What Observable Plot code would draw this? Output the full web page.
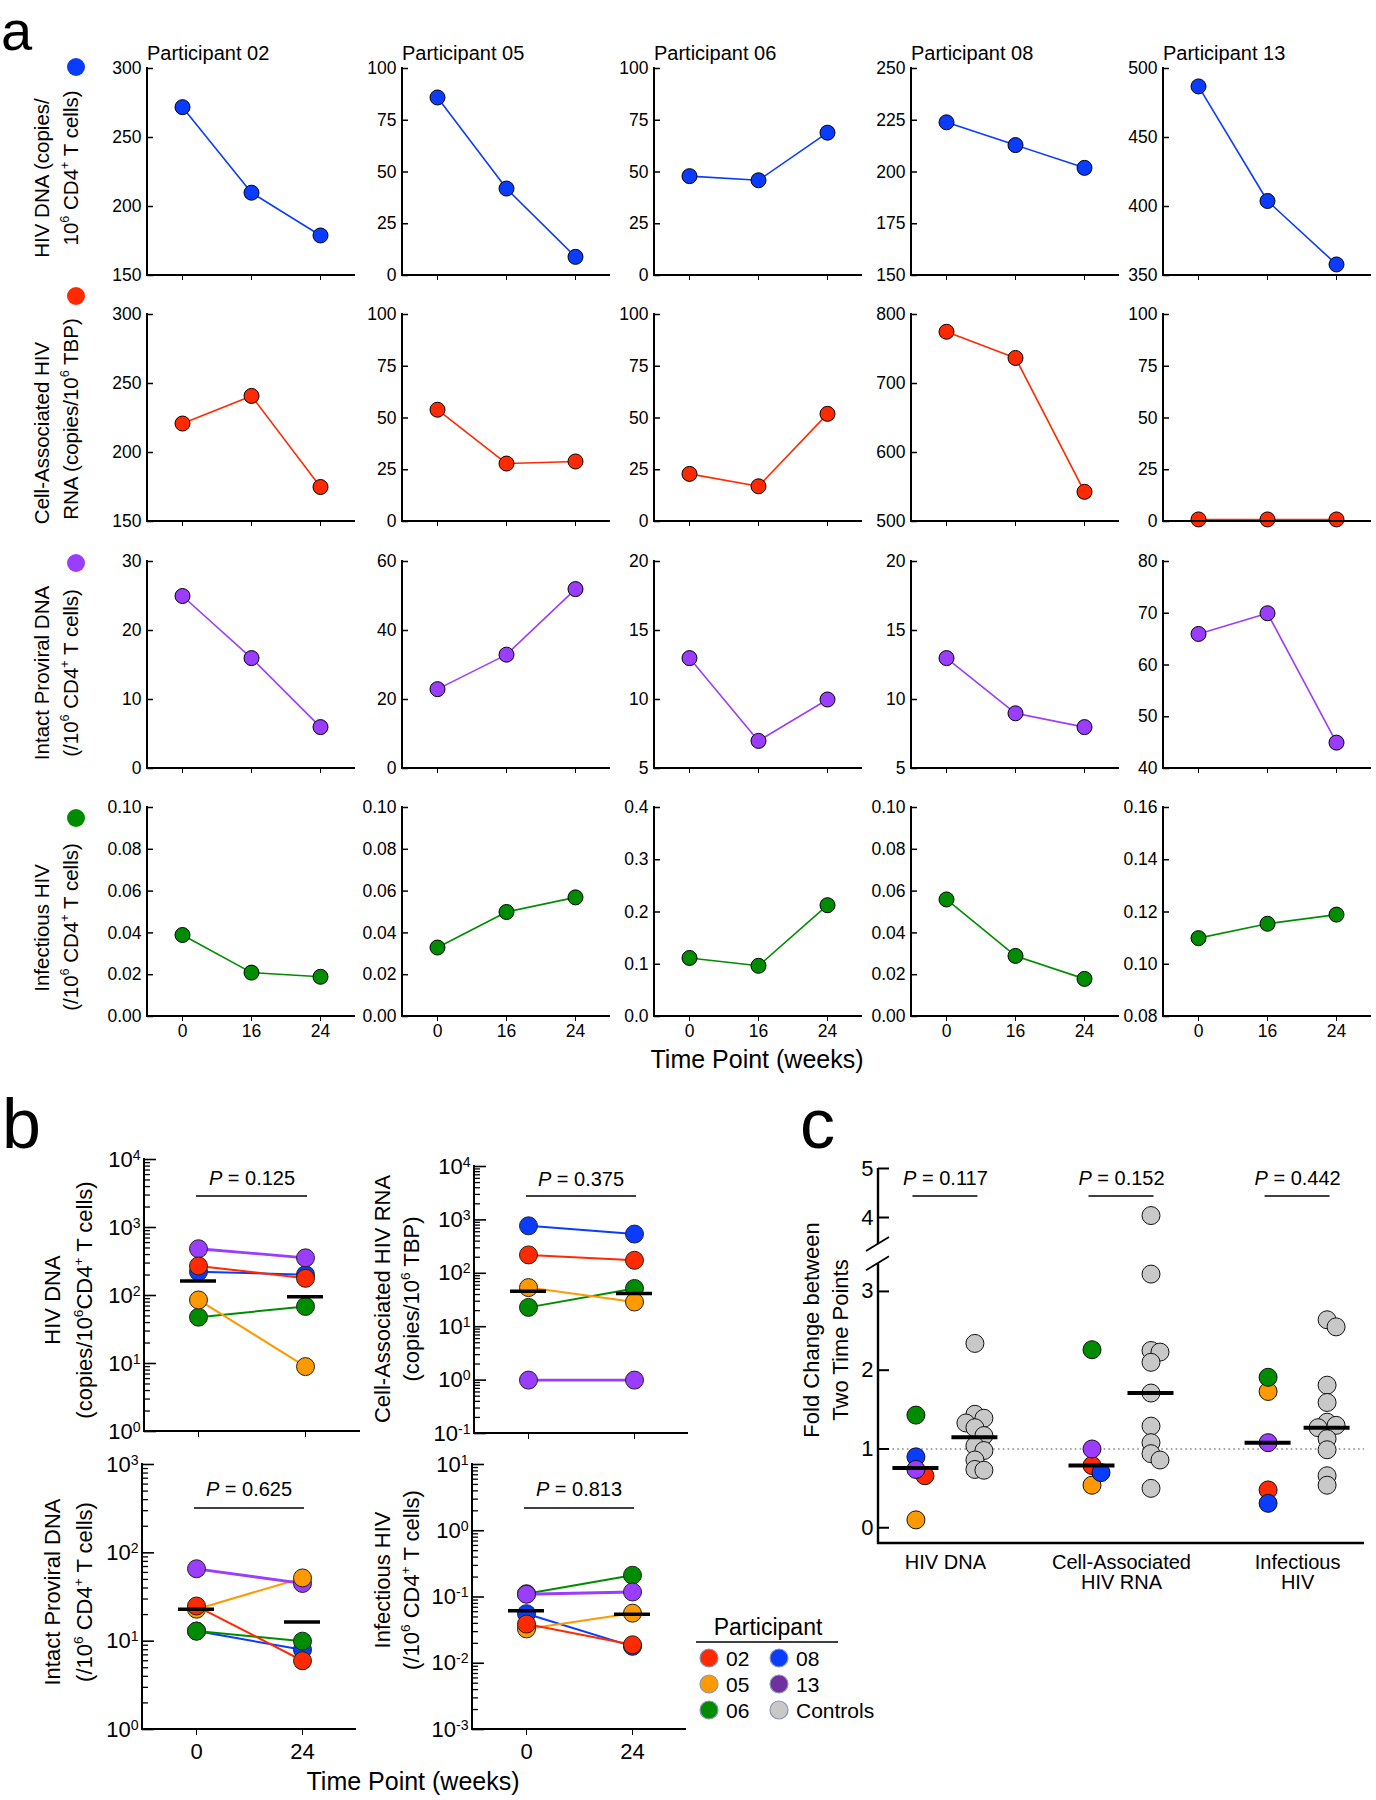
<!DOCTYPE html>
<html>
<head>
<meta charset="utf-8">
<script src="https://cdn.jsdelivr.net/npm/d3@7"></script>
<script src="https://cdn.jsdelivr.net/npm/@observablehq/plot@0.6"></script>
<style>
  body { margin: 0; background: #fff; }
  #fig { position: relative; width: 1376px; height: 1800px; background: #fff; overflow: hidden;
         font-family: "Liberation Sans", Arial, Helvetica, sans-serif; color: #000; }
</style>
</head>
<body>
<div id="fig"></div>
<script>
// ---------------- DATA ----------------
const participants = ["02", "05", "06", "08", "13"];
const weeks = ["0", "16", "24"];
const bWeeks = ["0", "24"];

// Panel a: values at weeks 0 / 16 / 24, one triple per participant (02, 05, 06, 08, 13)
const hivDnaValues     = [[272, 210, 179], [86, 42, 9], [48, 46, 69], [224, 213, 202], [487, 404, 358]];
const caRnaValues      = [[221, 241, 175], [54, 28, 29], [23, 17, 52], [775, 737, 543], [1, 1, 1]];
const intactValues     = [[25, 16, 6], [23, 33, 52], [13, 7, 10], [13, 9, 8], [66, 70, 45]];
const infectiousValues = [[0.039, 0.021, 0.019], [0.033, 0.050, 0.057], [0.112, 0.097, 0.213], [0.056, 0.029, 0.018], [0.110, 0.1155, 0.119]];

// Panel a: y tick labels per small panel
const hivDnaTicks     = [[150, 200, 250, 300], [0, 25, 50, 75, 100], [0, 25, 50, 75, 100], [150, 175, 200, 225, 250], [350, 400, 450, 500]];
const caRnaTicks      = [[150, 200, 250, 300], [0, 25, 50, 75, 100], [0, 25, 50, 75, 100], [500, 600, 700, 800], [0, 25, 50, 75, 100]];
const intactTicks     = [[0, 10, 20, 30], [0, 20, 40, 60], [5, 10, 15, 20], [5, 10, 15, 20], [40, 50, 60, 70, 80]];
const infectiousTicks = [[0, 0.02, 0.04, 0.06, 0.08, 0.10], [0, 0.02, 0.04, 0.06, 0.08, 0.10], [0, 0.1, 0.2, 0.3, 0.4], [0, 0.02, 0.04, 0.06, 0.08, 0.10], [0.08, 0.10, 0.12, 0.14, 0.16]];

// Panel b: geometric-mean bars (week 0, week 24), P values, log decades of each axis
const bGeoMeanDna        = [163, 96];
const bGeoMeanRna        = [46, 42];
const bGeoMeanIntact     = [23, 16.5];
const bGeoMeanInfectious = [0.062, 0.055];
const bPValues = ["0.125", "0.375", "0.625", "0.813"];
const bDecades = [[0, 4], [-1, 4], [0, 3], [-3, 1]];

// Panel c: fold change between two time points
const cCategories = ["HIV DNA", "Cell-Associated\nHIV RNA", "Infectious\nHIV"];
const cDnaParticipants = [0.66, 0.10, 1.43, 0.90, 0.74];   // 02, 05, 06, 08, 13
const cRnaParticipants = [0.79, 0.54, 2.26, 0.70, 1.00];
const cInfParticipants = [0.48, 1.73, 1.91, 0.31, 1.08];
const cDnaControls = [2.34, 1.44, 1.39, 1.33, 1.27, 1.17, 1.04, 0.98, 0.86, 0.74, 0.73];
const cRnaControls = [4.04, 3.22, 2.25, 2.23, 2.10, 1.71, 1.29, 1.08, 0.94, 0.86, 0.50];
const cInfControls = [2.64, 2.55, 1.81, 1.59, 1.34, 1.30, 1.27, 1.13, 0.99, 0.66, 0.54];
const cParticipantMedians = [0.76, 0.79, 1.08];
const cControlMedians = [1.15, 1.71, 1.27];
const cPValues = ["0.117", "0.152", "0.442"];
const cTicks = [0, 1, 2, 3, 4, 5];

// ---------------- STYLE / LAYOUT ----------------
const FONT = '"Liberation Sans", Arial, Helvetica, sans-serif';
const rowColors = ["#0a3cff", "#ff2a00", "#9b3dff", "#008c00"];
const pColors = ["#ff2a00", "#ff9900", "#008c00", "#0a3cff", "#9b3dff"];
const colorScale = {domain: [...participants, "Controls"], range: [...pColors, "#c8c8c8"]};
const fig = document.getElementById("fig");
const SVGNS = "http://www.w3.org/2000/svg";

const baseStyle = fs => ({background: "transparent", overflow: "visible", fontFamily: FONT, fontSize: fs + "px", color: "#000"});

function place(svg, left, top) {
  svg.style.position = "absolute";
  svg.style.left = left + "px";
  svg.style.top = top + "px";
  svg.style.maxWidth = "none";
  fig.appendChild(svg);
  postText(svg);
}

function postText(svg) {
  svg.querySelectorAll("text").forEach(t => {
    const s = t.textContent;
    let m;
    if (s.startsWith("P = ")) {
      while (t.firstChild) t.removeChild(t.firstChild);
      const it = document.createElementNS(SVGNS, "tspan");
      it.setAttribute("font-style", "italic");
      it.textContent = "P";
      t.appendChild(it);
      t.appendChild(document.createTextNode(s.slice(1)));
    } else if ((m = s.match(/^10\^(-?\d+)$/))) {
      while (t.firstChild) t.removeChild(t.firstChild);
      t.appendChild(document.createTextNode("10"));
      const sup = document.createElementNS(SVGNS, "tspan");
      sup.setAttribute("dy", "-0.5em");
      sup.setAttribute("font-size", "0.64em");
      sup.textContent = m[1];
      t.appendChild(sup);
    }
  });
}

function axisLines(sw = 2) {
  return (I, scales, values, dims) => {
    const g = d3.create("svg:g").attr("stroke", "#000").attr("stroke-width", sw).attr("stroke-linecap", "square");
    const x0 = dims.marginLeft, x1 = dims.width - dims.marginRight;
    const y0 = dims.marginTop, y1 = dims.height - dims.marginBottom;
    g.append("line").attr("x1", x0).attr("x2", x0).attr("y1", y0).attr("y2", y1);
    g.append("line").attr("x1", x0).attr("x2", x1).attr("y1", y1).attr("y2", y1);
    return g.node();
  };
}

function bracket(pairs, off, extra = 2) {
  return (I, scales, values, dims) => {
    const g = d3.create("svg:g").attr("stroke", "#000").attr("stroke-width", 1.4);
    const y = dims.marginTop + off;
    for (const [a, b] of pairs) {
      g.append("line").attr("x1", scales.x(a) - extra).attr("x2", scales.x(b) + extra).attr("y1", y).attr("y2", y);
    }
    return g.node();
  };
}

// ---------------- OVERLAY TEXT ----------------
const ov = d3.select(fig).append("svg")
  .attr("width", 1376).attr("height", 1800)
  .style("position", "absolute").style("left", "0px").style("top", "0px")
  .style("font-family", FONT);

function richText(sel, str, fs) {
  const parts = str.split(/(\{[^}]*\})/);
  let raised = false;
  for (const p of parts) {
    if (!p) continue;
    if (p.startsWith("{")) {
      sel.append("tspan").attr("dy", (raised ? 0 : -0.42 * fs)).attr("font-size", 0.62 * fs).text(p.slice(1, -1));
      raised = true;
    } else {
      const t = sel.append("tspan").text(p);
      if (raised) { t.attr("dy", 0.42 * fs); raised = false; }
    }
  }
}
function label(x, y, str, fs, {rotate = 0, anchor = "start"} = {}) {
  const t = ov.append("text")
    .attr("transform", `translate(${x},${y})` + (rotate ? ` rotate(${rotate})` : ""))
    .attr("font-size", fs).attr("text-anchor", anchor).attr("fill", "#000");
  richText(t, str, fs);
  return t;
}

// panel letters
label(1, 50, "a", 56);
label(2, 1148, "b", 70);
label(800, 1148, "c", 70);

// ---------------- PANEL A ----------------
const aValues = [hivDnaValues, caRnaValues, intactValues, infectiousValues];
const aTicks = [hivDnaTicks, caRnaTicks, intactTicks, infectiousTicks];
const aColX = [147, 402, 654, 911, 1163];
const aRowTop = [68, 314, 561, 807];
const aRowBottom = [275, 521, 768, 1016];
const aFrameW = 207;

participants.forEach((p, c) => label(aColX[c], 60, "Participant " + p, 20));

const aRowLabels = [
  ["HIV DNA (copies/", "10{6} CD4{+} T cells)"],
  ["Cell-Associated HIV", "RNA (copies/10{6} TBP)"],
  ["Intact Proviral DNA", "(/10{6} CD4{+} T cells)"],
  ["Infectious HIV", "(/10{6} CD4{+} T cells)"]
];
const aRowLabelY = [[178, 168], [433, 419], [673, 673], [928, 927]];
const aRowDotY = [67, 296, 563, 818];
aRowLabels.forEach((lines, r) => {
  label(49, aRowLabelY[r][0], lines[0], 20.5, {rotate: -90, anchor: "middle"});
  label(78, aRowLabelY[r][1], lines[1], 20.5, {rotate: -90, anchor: "middle"});
  ov.append("circle").attr("cx", 76).attr("cy", aRowDotY[r]).attr("r", 9).attr("fill", rowColors[r]);
});
label(757, 1068, "Time Point (weeks)", 25, {anchor: "middle"});

for (let r = 0; r < 4; r++) {
  for (let c = 0; c < 5; c++) {
    const vals = aValues[r][c], ticks = aTicks[r][c];
    const data = weeks.map((w, i) => ({w, v: vals[i]}));
    const frameH = aRowBottom[r] - aRowTop[r];
    const mL = 64, mR = 10, mT = 12, mB = 34;
    const fmt = r === 3 ? d3.format(c === 2 ? ".1f" : ".2f") : d => String(d);
    const svg = Plot.plot({
      width: mL + aFrameW + mR, height: mT + frameH + mB,
      marginLeft: mL, marginRight: mR, marginTop: mT, marginBottom: mB,
      style: baseStyle(17.5),
      x: {type: "point", domain: weeks, padding: 0.5, label: null, tickSize: 5, tickPadding: 3,
          tickFormat: r === 3 ? d => d : () => ""},
      y: {domain: [ticks[0], ticks[ticks.length - 1]], ticks, tickSize: 0, tickPadding: 6, tickFormat: fmt, label: null},
      marks: [
        Plot.tickY(ticks, {y: d => d, insetRight: aFrameW - 6, stroke: "#000", strokeWidth: 1.5}),
        Plot.line(data, {x: "w", y: "v", stroke: rowColors[r], strokeWidth: 1.6}),
        Plot.dot(data, {x: "w", y: "v", r: 7.5, fill: rowColors[r], stroke: "#000", strokeWidth: 1}),
        axisLines(2)
      ]
    });
    place(svg, aColX[c] - mL, aRowTop[r] - mT);
  }
}

// ---------------- PANEL B ----------------
const drawOrder = ["08", "06", "13", "05", "02"];
const B = [
  {left: 144, top: 1159, bottom: 1431, w: 215, vals: hivDnaValues, gm: bGeoMeanDna, textDy: 19, barDy: 37, xLabels: false},
  {left: 474, top: 1166, bottom: 1433, w: 213, vals: caRnaValues, gm: bGeoMeanRna, textDy: 13, barDy: 30, xLabels: false},
  {left: 142, top: 1464, bottom: 1729, w: 213, vals: intactValues, gm: bGeoMeanIntact, textDy: 25, barDy: 44, xLabels: true},
  {left: 472, top: 1464, bottom: 1729, w: 213, vals: infectiousValues, gm: bGeoMeanInfectious, textDy: 25, barDy: 44, xLabels: true}
];
const bLabels = [
  ["HIV DNA", "(copies/10{6}CD4{+} T cells)"],
  ["Cell-Associated HIV RNA", "(copies/10{6} TBP)"],
  ["Intact Proviral DNA", "(/10{6} CD4{+} T cells)"],
  ["Infectious HIV", "(/10{6} CD4{+} T cells)"]
];
const bLabelX = [[60, 92], [390, 419], [60, 92], [390, 419]];
const bLabelY = [1300, 1299, 1592, 1580];

B.forEach((cfg, k) => {
  const [d0, d1] = bDecades[k];
  const majors = d3.range(d0, d1 + 1).map(e => Math.pow(10, e));
  const minors = [];
  for (let e = d0; e < d1; e++) for (let m = 2; m <= 9; m++) minors.push(m * Math.pow(10, e));
  const data = [];
  for (const p of drawOrder) {
    const i = participants.indexOf(p);
    data.push({p, w: "0", v: cfg.vals[i][0]}, {p, w: "24", v: cfg.vals[i][2]});
  }
  const gm = bWeeks.map((w, i) => ({w, v: cfg.gm[i]}));
  const mL = 72, mR = 10, mT = 12, mB = 44;
  const svg = Plot.plot({
    width: mL + cfg.w + mR, height: mT + (cfg.bottom - cfg.top) + mB,
    marginLeft: mL, marginRight: mR, marginTop: mT, marginBottom: mB,
    style: baseStyle(22),
    color: colorScale,
    x: {type: "point", domain: bWeeks, padding: 0.5, label: null, tickSize: 6, tickPadding: 8,
        tickFormat: cfg.xLabels ? d => d : () => ""},
    y: {type: "log", domain: [majors[0], majors[majors.length - 1]], ticks: majors, tickSize: 0, tickPadding: 4,
        tickFormat: d => "10^" + Math.round(Math.log10(d)), label: null},
    marks: [
      Plot.tickY(minors, {y: d => d, insetRight: cfg.w - 6, stroke: "#000", strokeWidth: 1.3}),
      Plot.tickY(majors, {y: d => d, insetRight: cfg.w - 12, stroke: "#000", strokeWidth: 1.6}),
      bracket([["0", "24"]], cfg.barDy, 2),
      Plot.text([`P = ${bPValues[k]}`], {frameAnchor: "top", lineAnchor: "middle", dy: cfg.textDy, fontSize: 20}),
      Plot.line(data, {filter: d => d.p !== "13", x: "w", y: "v", z: "p", stroke: "p", strokeWidth: 2}),
      Plot.line(data, {filter: d => d.p === "13", x: "w", y: "v", z: "p", stroke: "p", strokeWidth: 2.8}),
      Plot.dot(data, {x: "w", y: "v", r: 9, fill: "p", stroke: "#222", strokeWidth: 1}),
      Plot.ruleY(gm, {x1: "w", x2: "w", y: "v", insetLeft: -18, insetRight: -18, stroke: "#000", strokeWidth: 3.5}),
      axisLines(2)
    ]
  });
  place(svg, cfg.left - mL, cfg.top - mT);
  label(bLabelX[k][0], bLabelY[k], bLabels[k][0], 22, {rotate: -90, anchor: "middle"});
  label(bLabelX[k][1], bLabelY[k], bLabels[k][1], 22, {rotate: -90, anchor: "middle"});
});
label(413, 1790, "Time Point (weeks)", 25, {anchor: "middle"});

// ---------------- LEGEND ----------------
label(768, 1635, "Participant", 23, {anchor: "middle"});
ov.append("line").attr("x1", 696).attr("x2", 838).attr("y1", 1642).attr("y2", 1642).attr("stroke", "#000").attr("stroke-width", 1.5);
const legendItems = [
  ["02", "#ff2a00", 709, 1658], ["05", "#ff9900", 709, 1684], ["06", "#008c00", 709, 1710],
  ["08", "#0a3cff", 779, 1658], ["13", "#7030a0", 779, 1684], ["Controls", "#c8c8c8", 779, 1710]
];
for (const [name, col, x, y] of legendItems) {
  ov.append("circle").attr("cx", x).attr("cy", y).attr("r", 9).attr("fill", col).attr("stroke", "#8a96b8").attr("stroke-width", 1.2);
  label(x + 17, y + 7.5, name, 21);
}

// ---------------- PANEL C ----------------
// broken y axis: values above the break are drawn with a compressed unit
const brkLo = 3.35, brkHi = 3.45, brkGap = 0.246, upperRatio = 0.6222;
const compress = v => v <= brkLo ? v : brkLo + brkGap + (v - brkHi) * upperRatio;
const expand = u => u <= brkLo ? u : brkHi + (u - brkLo - brkGap) / upperRatio;

const C = {left: 780, top: 1100, width: 596, mL: 98, mR: 12, mT: 68, mB: 80, frameBottom: 443};
const cYDomain = [-0.2, compress(5)];
const cXDomain = [-0.38, 2.38];
const cXRange = [C.mL, C.width - C.mR];
const cys = d3.scaleLinear(cYDomain, [C.frameBottom, C.mT]);
const pxPerUnit = (cXRange[1] - cXRange[0]) / (cXDomain[1] - cXDomain[0]);
const groupOffset = 29.5 / pxPerUnit;

const cPartSets = [cDnaParticipants, cRnaParticipants, cInfParticipants];
const cCtrlSets = [cDnaControls, cRnaControls, cInfControls];
const cPoints = [];
function swarm(items, r) {
  const placed = [];
  const sorted = items.slice().sort((a, b) => cys(compress(a.v)) - cys(compress(b.v)));
  for (const it of sorted) {
    const py = cys(compress(it.v));
    let off = 0;
    for (let k = 0; k < 30; k++) {
      const cand = k === 0 ? 0 : (k % 2 ? 1 : -1) * Math.ceil(k / 2) * r;
      if (placed.every(q => Math.hypot(q.off - cand, q.py - py) >= r)) { off = cand; break; }
    }
    placed.push({off, py});
    it.x = it.pos + off / pxPerUnit;
  }
  return items;
}
cCategories.forEach((cat, i) => {
  const part = participants.map((p, j) => ({p, v: cPartSets[i][j], pos: i - groupOffset}));
  const ctrl = cCtrlSets[i].map(v => ({p: "Controls", v, pos: i + groupOffset}));
  cPoints.push(...swarm(part, 9), ...swarm(ctrl, 9));
});
const cMedians = [];
cCategories.forEach((cat, i) => {
  cMedians.push({pos: i - groupOffset, v: cParticipantMedians[i]}, {pos: i + groupOffset, v: cControlMedians[i]});
});

function brokenAxis(lowTop, highBottom) {
  return (I, scales, values, dims) => {
    const g = d3.create("svg:g").attr("stroke", "#000").attr("stroke-width", 2.4).attr("fill", "none");
    const x0 = dims.marginLeft, x1 = dims.width - dims.marginRight;
    const yb = dims.height - dims.marginBottom, yt = dims.marginTop;
    const yLo = scales.y(lowTop), yHi = scales.y(highBottom);
    g.append("line").attr("x1", x0).attr("x2", x0).attr("y1", yb + 1).attr("y2", yLo);
    g.append("line").attr("x1", x0).attr("x2", x0).attr("y1", yHi).attr("y2", yt);
    g.append("line").attr("x1", x0 - 1).attr("x2", x1).attr("y1", yb).attr("y2", yb);
    for (const y of [yLo, yHi]) {
      g.append("line").attr("x1", x0 - 12).attr("y1", y + 7).attr("x2", x0 + 11).attr("y2", y - 7).attr("stroke-width", 1.8);
    }
    return g.node();
  };
}

const cSvg = Plot.plot({
  width: C.width, height: C.frameBottom + C.mB,
  marginLeft: C.mL, marginRight: C.mR, marginTop: C.mT, marginBottom: C.mB,
  style: baseStyle(22),
  color: colorScale,
  x: {domain: cXDomain, axis: null},
  y: {domain: cYDomain, ticks: cTicks.map(compress), tickSize: 0, tickPadding: 5,
      tickFormat: u => String(Math.round(expand(u))), label: null},
  marks: [
    Plot.ruleY([1], {y: d => compress(d), stroke: "#8a8a8a", strokeWidth: 1.6, strokeDasharray: "1.6,3.2"}),
    Plot.tickY(cTicks, {y: d => compress(d), insetRight: (cXRange[1] - cXRange[0]) - 11, stroke: "#000", strokeWidth: 2}),
    Plot.dot(cPoints, {x: "x", y: d => compress(d.v), r: 9, fill: "p", stroke: "#111", strokeWidth: 1}),
    Plot.ruleY(cMedians, {y: d => compress(d.v), x1: "pos", x2: "pos", insetLeft: -23, insetRight: -23, stroke: "#000", strokeWidth: 4}),
    Plot.text(cPValues, {x: (d, i) => i, frameAnchor: "top", lineAnchor: "middle", dy: 10, text: d => `P = ${d}`, fontSize: 20}),
    bracket(cCategories.map((d, i) => [i - groupOffset, i + groupOffset]), 28, 3),
    Plot.text(cCategories, {x: (d, i) => i, frameAnchor: "bottom", dy: 11, lineAnchor: "top", lineHeight: 1.02, fontSize: 20, text: d => d}),
    brokenAxis(compress(brkLo), compress(brkHi))
  ]
});
place(cSvg, C.left, C.top);
label(819, 1330, "Fold Change between", 22, {rotate: -90, anchor: "middle"});
label(848, 1340, "Two Time Points", 22, {rotate: -90, anchor: "middle"});
</script>
</body>
</html>
